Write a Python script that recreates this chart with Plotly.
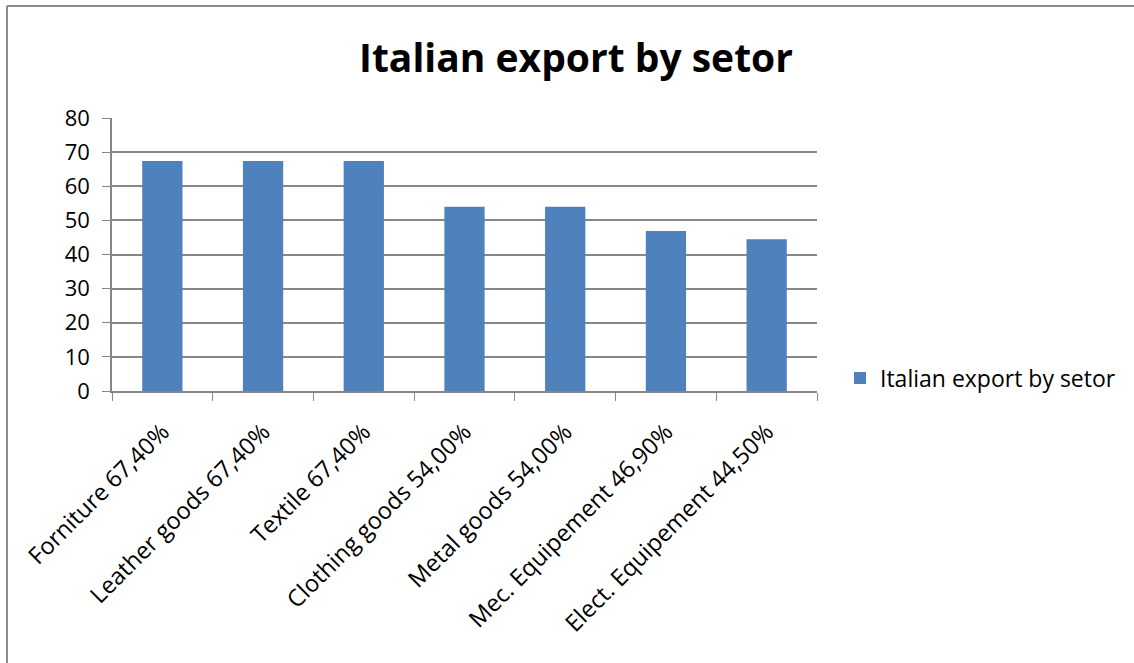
import plotly.graph_objects as go

# Export share by sector (percent)
sectors = ["Forniture", "Leather goods", "Textile", "Clothing goods",
           "Metal goods", "Mec. Equipement", "Elect. Equipement"]
share_labels = ["67,40%", "67,40%", "67,40%", "54,00%", "54,00%", "46,90%", "44,50%"]
share_values = [67.4, 67.4, 67.4, 54.0, 54.0, 46.9, 44.5]
y_ticks = [0, 10, 20, 30, 40, 50, 60, 70, 80]

categories = [f"{s} {p}" for s, p in zip(sectors, share_labels)]
series_name = "Italian export by setor"

W, H = 1134, 663
L, R, T, B = 112, 317, 118, 272
pw, ph = W - L - R, H - T - B

FONT = "Open Sans"
GRID = "#878787"

fig = go.Figure(go.Bar(
    x=categories, y=share_values, name=series_name,
    marker=dict(color="#4f81bd", line=dict(width=0)),
    showlegend=True,
))

def px_x(x):
    return (x - L) / pw

def px_y(y):
    return (H - B - y) / ph

# outer chart frame (left and top edges)
fig.add_shape(type="line", xref="paper", yref="paper",
              x0=px_x(7), x1=px_x(W + 5), y0=px_y(6), y1=px_y(6),
              line=dict(color="#8c8c8c", width=2))
fig.add_shape(type="line", xref="paper", yref="paper",
              x0=px_x(7), x1=px_x(7), y0=px_y(6), y1=px_y(H + 5),
              line=dict(color="#8c8c8c", width=2))

fig.update_layout(
    width=W, height=H,
    margin=dict(l=L, r=R, t=T, b=B, autoexpand=False),
    paper_bgcolor="white", plot_bgcolor="white",
    bargap=0.6,
    title=dict(text="<b>Italian export by setor</b>", x=576 / W, xanchor="center",
               y=1 - 58 / H, yanchor="middle",
               font=dict(family=FONT, size=39, color="black")),
    font=dict(family=FONT, color="black"),
    legend=dict(x=px_x(840), xanchor="left", y=px_y(378), yanchor="middle",
                font=dict(family=FONT, size=23, color="black"),
                itemwidth=30, bgcolor="rgba(0,0,0,0)"),
    xaxis=dict(
        type="category", tickangle=-45,
        tickfont=dict(family=FONT, size=23.5, color="black"),
        showline=True, linecolor=GRID, linewidth=1.5,
        ticks="outside", tickson="boundaries", ticklen=8, tickcolor=GRID,
        ticklabelstandoff=16,
        showgrid=False,
    ),
    yaxis=dict(
        range=[0, 80], tickvals=y_ticks,
        tickfont=dict(family=FONT, size=22, color="black"),
        showline=True, linecolor=GRID, linewidth=1.5,
        ticks="outside", ticklen=8, tickcolor=GRID,
        ticklabelstandoff=8,
        showgrid=True, gridcolor=GRID, gridwidth=1.5,
        zeroline=False,
    ),
)

fig.write_html("out.html")
